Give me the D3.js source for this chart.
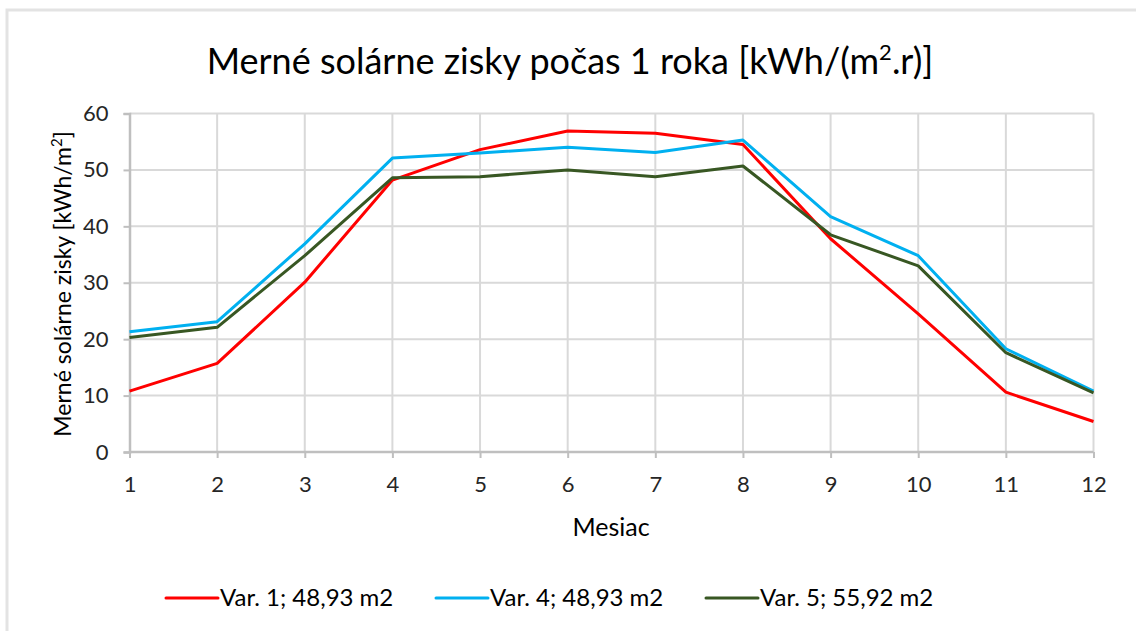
<!DOCTYPE html>
<html>
<head>
<meta charset="utf-8">
<script src="https://cdn.jsdelivr.net/npm/d3@7"></script>
<style>
  html, body { margin: 0; padding: 0; background: #fff; }
  svg { display: block; font-family: Lato, "Open Sans", sans-serif; }
</style>
</head>
<body>
<svg id="chart" width="1136" height="631"></svg>
<script>
// Months of the year
const months = [1, 2, 3, 4, 5, 6, 7, 8, 9, 10, 11, 12];
// Specific solar gains per month [kWh/m2]
const var1 = [10.8, 15.7, 30.1, 48.2, 53.6, 56.9, 56.5, 54.5, 37.8, 24.5, 10.6, 5.4];
const var4 = [21.3, 23.1, 36.9, 52.1, 53.0, 54.0, 53.1, 55.3, 41.7, 34.8, 18.3, 10.8];
const var5 = [20.3, 22.1, 34.8, 48.6, 48.8, 50.0, 48.8, 50.7, 38.5, 33.0, 17.6, 10.5];
const yTicks = [0, 10, 20, 30, 40, 50, 60];
const seriesNames = ["Var. 1; 48,93 m2", "Var. 4; 48,93 m2", "Var. 5; 55,92 m2"];
const seriesColors = ["#ff0000", "#00b0f0", "#385723"];

const svg = d3.select("#chart");

// Outer frame (top and left edges)
svg.append("path")
  .attr("d", "M7,631 L7,10 L1136,10")
  .attr("fill", "none")
  .attr("stroke", "#e3e3e3")
  .attr("stroke-width", 3);

const x = d3.scalePoint().domain(months).range([129.5, 1093.5]);
const y = d3.scaleLinear().domain([0, 60]).range([452, 113.5]);

// Horizontal gridlines
svg.append("g")
  .selectAll("line")
  .data(yTicks.filter(d => d > 0))
  .join("line")
  .attr("x1", x(1)).attr("x2", x(12))
  .attr("y1", d => y(d)).attr("y2", d => y(d))
  .attr("stroke", "#d9d9d9").attr("stroke-width", 2);

// Vertical gridlines
svg.append("g")
  .selectAll("line")
  .data(months.slice(1))
  .join("line")
  .attr("x1", d => x(d)).attr("x2", d => x(d))
  .attr("y1", y(60)).attr("y2", y(0))
  .attr("stroke", "#d9d9d9").attr("stroke-width", 2);

// Y axis
const yAxis = svg.append("g")
  .attr("transform", `translate(${x(1)},0)`)
  .call(d3.axisLeft(y).tickValues(yTicks).tickSize(6).tickPadding(15).tickFormat(d3.format("d")));
yAxis.select(".domain").attr("stroke", "#bfbfbf").attr("stroke-width", 2.5);
yAxis.selectAll(".tick line").attr("stroke", "#bfbfbf").attr("stroke-width", 2);
yAxis.selectAll(".tick text")
  .attr("font-size", 22).attr("fill", "#262626")
  .attr("font-family", "Lato, sans-serif");

// X axis
const xAxis = svg.append("g")
  .attr("transform", `translate(0,${y(0)})`)
  .call(d3.axisBottom(x).tickSize(6).tickPadding(18));
xAxis.select(".domain").attr("stroke", "#bfbfbf").attr("stroke-width", 2.5)
  .attr("d", `M${x(1)},0H${x(12)}`);
xAxis.selectAll(".tick line").attr("stroke", "#bfbfbf").attr("stroke-width", 2);
xAxis.selectAll(".tick text")
  .attr("font-size", 22).attr("fill", "#262626")
  .attr("font-family", "Lato, sans-serif");

// Series lines
const line = d3.line().x((d, i) => x(months[i])).y(d => y(d));
const seriesData = [var1, var4, var5];
svg.append("g")
  .selectAll("path")
  .data(seriesData)
  .join("path")
  .attr("d", d => line(d))
  .attr("fill", "none")
  .attr("stroke", (d, i) => seriesColors[i])
  .attr("stroke-width", 3)
  .attr("stroke-linejoin", "round");

// Chart title
const title = svg.append("text")
  .attr("x", 570).attr("y", 74)
  .attr("text-anchor", "middle")
  .attr("font-size", 36).attr("fill", "#000");
title.append("tspan").text("Merné solárne zisky počas 1 roka [kWh/(m");
title.append("tspan").attr("font-size", 22).attr("dy", -14).text("2");
title.append("tspan").attr("dy", 14).text(".r)]");

// Axis titles
svg.append("text")
  .attr("x", 611).attr("y", 536)
  .attr("text-anchor", "middle")
  .attr("font-size", 25).attr("fill", "#000")
  .text("Mesiac");

const yTitle = svg.append("text")
  .attr("transform", "translate(71,284) rotate(-90)")
  .attr("text-anchor", "middle")
  .attr("font-size", 23).attr("fill", "#000");
yTitle.append("tspan").text("Merné solárne zisky [kWh/m");
yTitle.append("tspan").attr("font-size", 15).attr("dy", -9).text("2");
yTitle.append("tspan").attr("dy", 9).text("]");

// Legend
const legendX = [166, 436, 706];
const legend = svg.append("g")
  .selectAll("g")
  .data(seriesNames)
  .join("g")
  .attr("transform", (d, i) => `translate(${legendX[i]},598)`);
legend.append("line")
  .attr("x1", 0).attr("x2", 52)
  .attr("stroke", (d, i) => seriesColors[i])
  .attr("stroke-width", 3).attr("stroke-linecap", "round");
legend.append("text")
  .attr("x", 54).attr("dy", "0.35em")
  .attr("font-size", 24).attr("fill", "#000")
  .text(d => d);
</script>
</body>
</html>
